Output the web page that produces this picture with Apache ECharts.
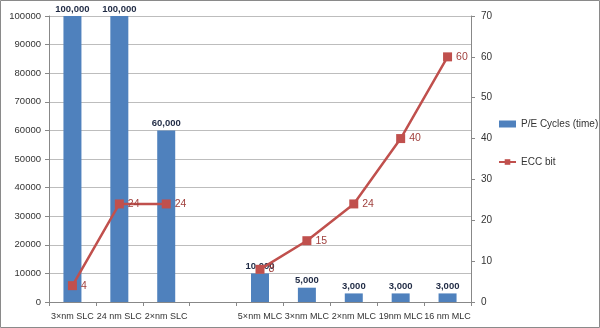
<!DOCTYPE html>
<html><head><meta charset="utf-8">
<script src="https://cdn.jsdelivr.net/npm/echarts@6/dist/echarts.min.js"></script>
<style>html,body{margin:0;padding:0;background:#fff}#c{width:600px;height:328px}</style>
</head><body><div id="c"></div>
<script>
const categories = ['3×nm SLC','24 nm SLC','2×nm SLC','','5×nm MLC','3×nm MLC','2×nm MLC','19nm MLC','16 nm MLC'];
const peCycles = [100000,100000,60000,null,10000,5000,3000,3000,3000];
const eccBits = [4,24,24,null,8,15,24,40,60];
const leftTicks = {min:0,max:100000,interval:10000};
const rightTicks = {min:0,max:70,interval:10};

const font = "'Liberation Sans', Arial, sans-serif";
const chart = echarts.init(document.getElementById('c'), null, {renderer:'canvas'});
chart.setOption({
  animation:false,
  textStyle:{fontFamily:font},
  graphic:[{type:'rect',shape:{x:0.5,y:0.5,width:599,height:327},style:{fill:'none',stroke:'#8a8a8a',lineWidth:1},silent:true}],
  grid:{left:49,right:129,top:16,bottom:26},
  legend:{orient:'vertical',left:498,top:119,padding:0,itemGap:28,itemWidth:17,itemHeight:7,
    textStyle:{fontFamily:font,fontSize:10,color:'#333'},
    data:[{name:'P/E Cycles (time)',icon:'rect'},{name:'ECC bit'}]},
  xAxis:{type:'category',data:categories,
    axisLine:{lineStyle:{color:'#888'}},
    axisTick:{show:true,alignWithLabel:false,length:4,lineStyle:{color:'#888'}},
    axisLabel:{interval:0,fontFamily:font,fontSize:9,color:'#333',margin:10}},
  yAxis:[
    {type:'value',min:leftTicks.min,max:leftTicks.max,interval:leftTicks.interval,
     axisLine:{show:true,lineStyle:{color:'#888'}},axisTick:{show:true,length:4,lineStyle:{color:'#888'}},
     axisLabel:{fontFamily:font,fontSize:9.5,color:'#333',margin:8,formatter:v=>String(v)},
     splitLine:{lineStyle:{color:'#bdbdbd'}}},
    {type:'value',min:rightTicks.min,max:rightTicks.max,interval:rightTicks.interval,position:'right',
     axisLine:{show:true,lineStyle:{color:'#888'}},axisTick:{show:true,length:4,lineStyle:{color:'#888'}},
     axisLabel:{fontFamily:font,fontSize:10,color:'#333',margin:10,formatter:v=>String(v)},
     splitLine:{show:false}}
  ],
  series:[
    {name:'P/E Cycles (time)',type:'bar',data:peCycles,barWidth:18,yAxisIndex:0,
     itemStyle:{color:'#4f81bd'},
     label:{show:true,position:'top',distance:2,fontFamily:font,fontSize:9.5,fontWeight:'bold',color:'#1f2a44',
       formatter:p=>p.value==null?'':p.value.toLocaleString('en-US')}},
    {name:'ECC bit',type:'line',data:eccBits,yAxisIndex:1,connectNulls:false,
     symbol:'rect',symbolSize:9,lineStyle:{color:'#c0504d',width:2.5},itemStyle:{color:'#c0504d'},
     label:{show:true,position:'right',distance:4,fontFamily:font,fontSize:10.5,color:'#a0403d'}}
  ]
});
</script></body></html>
